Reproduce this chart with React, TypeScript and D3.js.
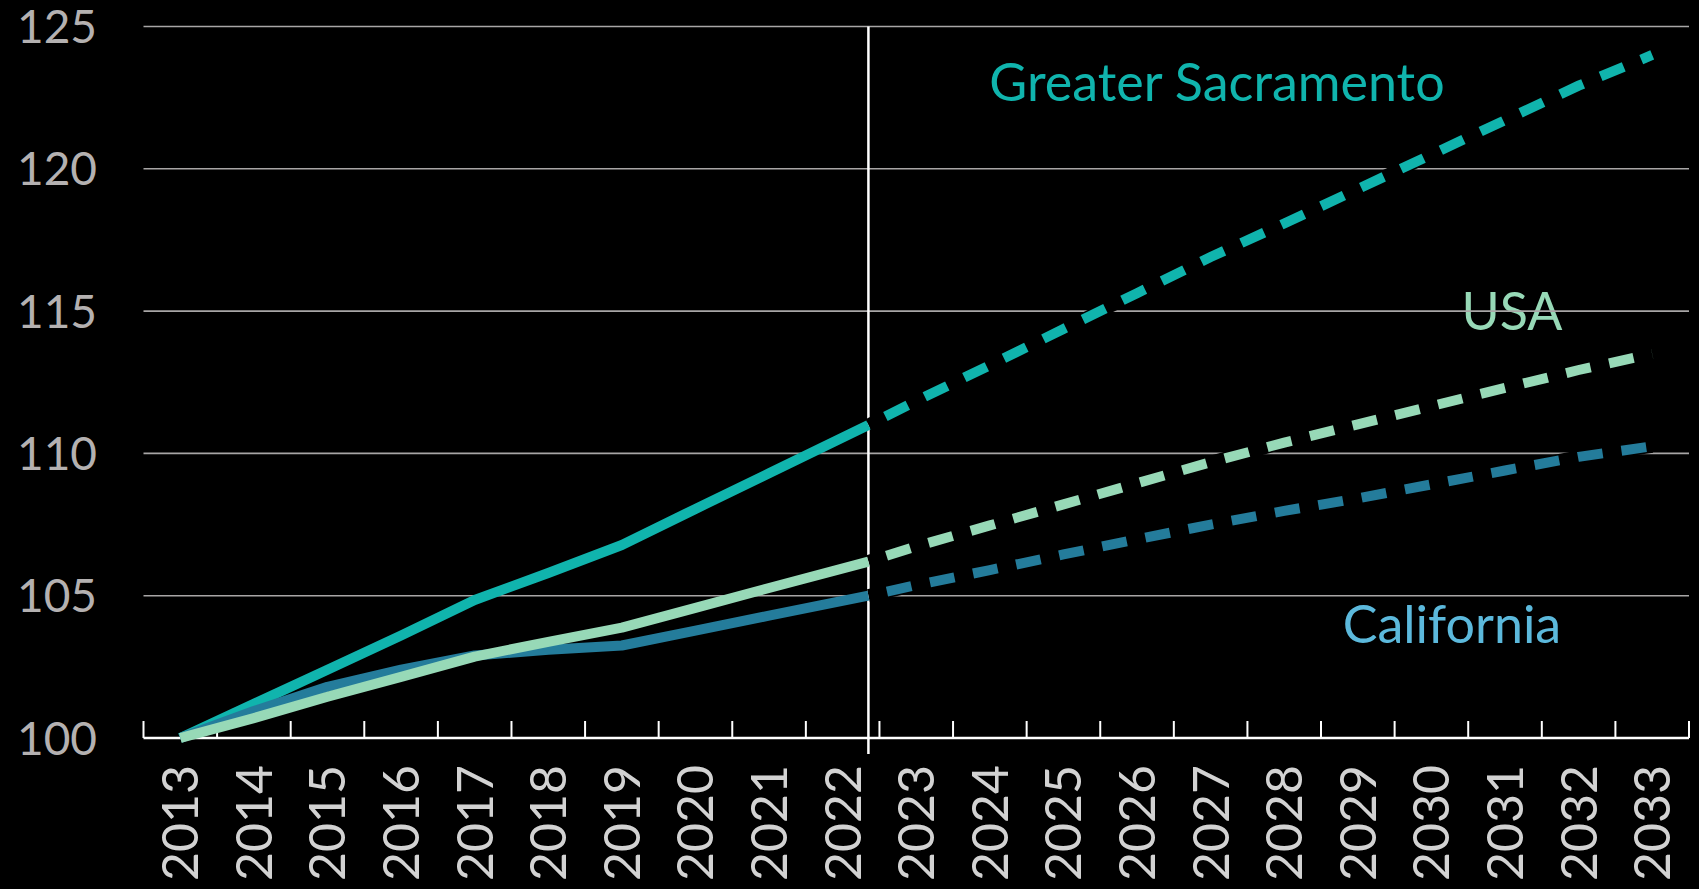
import React, { useRef, useEffect } from 'react';
import * as d3 from 'd3';

// index, 2013 = 100
const tickYears = [2013, 2014, 2015, 2016, 2017, 2018, 2019, 2020, 2021, 2022, 2023, 2024, 2025, 2026, 2027, 2028, 2029, 2030, 2031, 2032, 2033];
const yTicks = [100, 105, 110, 115, 120, 125];

// last actual reading sits a third of the way into 2022
const splitYear = 2022.35;

const histYears = [2013, 2014, 2015, 2016, 2017, 2018, 2019, 2020, 2021, splitYear];
const sacHist = [100, 101.2, 102.4, 103.6, 104.85, 105.8, 106.78, 108.05, 109.3, 111.0];
const usaHist = [100, 100.7, 101.45, 102.15, 102.86, 103.38, 103.88, 104.57, 105.27, 106.2];
const caHist = [100, 100.95, 101.8, 102.4, 102.9, 103.1, 103.25, 103.77, 104.3, 105.0];

const forecastYears = [splitYear, 2023, 2024, 2025, 2026, 2027, 2028, 2029, 2030, 2031, 2032, 2033];
const sacForecast = [111.0, 111.84, 113.1, 114.37, 115.63, 116.9, 118.08, 119.29, 120.5, 121.71, 122.92, 124.0];
const usaForecast = [106.2, 106.73, 107.47, 108.21, 108.95, 109.69, 110.38, 111.02, 111.66, 112.3, 112.93, 113.5];
const caForecast = [105.0, 105.37, 105.9, 106.45, 106.98, 107.5, 107.98, 108.42, 108.91, 109.4, 109.88, 110.25];

const seriesNames = ['Greater Sacramento', 'USA', 'California'];
const seriesColors = ['#10b4ad', '#97d9b7', '#247c9b'];
const labelColors = ['#10b4ad', '#97d9b7', '#5cb9dc'];

const WIDTH = 1699;
const HEIGHT = 889;
const FONT = 'Lato, "Open Sans", sans-serif';

const App: React.FC = () => {
  const svgRef = useRef<SVGSVGElement>(null);

  useEffect(() => {
    if (!svgRef.current) return;
    d3.select(svgRef.current).selectAll('*').remove();

    const svg = d3.select(svgRef.current).attr('width', WIDTH).attr('height', HEIGHT);

    svg.append('rect').attr('width', WIDTH).attr('height', HEIGHT).attr('fill', '#000');

    const left = 143.5;
    const right = 1689;
    const x = d3.scaleLinear().domain([2012.5, 2033.5]).range([left, right]);
    const y = d3.scaleLinear().domain([100, 125]).range([738, 26.5]);

    // labels next to the lines
    const labelPos = [
      { x: 1217, y: 101 },
      { x: 1512, y: 330 },
      { x: 1452, y: 643 },
    ];
    svg
      .append('g')
      .selectAll('text')
      .data(seriesNames)
      .enter()
      .append('text')
      .attr('x', (_, i) => labelPos[i].x)
      .attr('y', (_, i) => labelPos[i].y)
      .attr('text-anchor', 'middle')
      .style('font-family', FONT)
      .style('font-size', '52px')
      .attr('fill', (_, i) => labelColors[i])
      .text((d) => d);

    // grid lines
    svg
      .append('g')
      .selectAll('line')
      .data(yTicks.filter((t) => t > 100))
      .enter()
      .append('line')
      .attr('x1', left)
      .attr('x2', right)
      .attr('y1', (d) => y(d))
      .attr('y2', (d) => y(d))
      .attr('stroke', '#a8a6a6')
      .attr('stroke-width', 1.6);

    // y labels
    svg
      .append('g')
      .selectAll('text')
      .data(yTicks)
      .enter()
      .append('text')
      .attr('x', 97)
      .attr('y', (d) => y(d))
      .attr('dy', '0.36em')
      .attr('text-anchor', 'end')
      .style('font-family', FONT)
      .style('font-size', '46px')
      .attr('fill', '#b4b1b1')
      .text((d) => d);

    // x axis
    const axis = svg.append('g');
    axis
      .append('line')
      .attr('x1', left)
      .attr('x2', right)
      .attr('y1', y(100))
      .attr('y2', y(100))
      .attr('stroke', '#fff')
      .attr('stroke-width', 2.5);

    axis
      .selectAll('.tick')
      .data(d3.range(2012.5, 2034, 1))
      .enter()
      .append('line')
      .attr('class', 'tick')
      .attr('x1', (d) => x(d))
      .attr('x2', (d) => x(d))
      .attr('y1', y(100))
      .attr('y2', y(100) - 17)
      .attr('stroke', '#fff')
      .attr('stroke-width', 2);

    axis
      .selectAll('.xlabel')
      .data(tickYears)
      .enter()
      .append('text')
      .attr('class', 'xlabel')
      .attr('transform', (d) => `translate(${x(d)},765) rotate(-90)`)
      .attr('dy', '0.36em')
      .attr('text-anchor', 'end')
      .style('font-family', FONT)
      .style('font-size', '50px')
      .attr('fill', '#d2d2d2')
      .text((d) => d);

    // divider between actual and forecast
    svg
      .append('line')
      .attr('x1', x(splitYear))
      .attr('x2', x(splitYear))
      .attr('y1', y(125))
      .attr('y2', 754)
      .attr('stroke', '#fff')
      .attr('stroke-width', 2.5);

    const line = d3
      .line<[number, number]>()
      .x((d) => x(d[0]))
      .y((d) => y(d[1]));

    const hist = [sacHist, usaHist, caHist];
    const fc = [sacForecast, usaForecast, caForecast];

    // forecast: black underlay then dashes (hides the grid under the gaps)
    const fg = svg.append('g');
    fc.forEach((vals) => {
      const pts = forecastYears.map((yr, j) => [yr, vals[j]] as [number, number]);
      fg.append('path')
        .attr('d', line(pts))
        .attr('fill', 'none')
        .attr('stroke', '#000')
        .attr('stroke-width', 13);
    });
    fc.forEach((vals, i) => {
      const pts = forecastYears.map((yr, j) => [yr, vals[j]] as [number, number]);
      fg.append('path')
        .attr('d', line(pts))
        .attr('fill', 'none')
        .attr('stroke', seriesColors[i])
        .attr('stroke-width', 10)
        .attr('stroke-dasharray', '25 19')
        .attr('stroke-dashoffset', 25);
    });

    // actual lines, USA on top of California as in the original
    const hg = svg.append('g');
    [0, 2, 1].forEach((i) => {
      const pts = histYears.map((yr, j) => [yr, hist[i][j]] as [number, number]);
      hg.append('path')
        .attr('d', line(pts))
        .attr('fill', 'none')
        .attr('stroke', seriesColors[i])
        .attr('stroke-width', 10)
        .attr('stroke-linejoin', 'round');
    });
  }, []);

  return (
    <div style={{ position: 'absolute', left: 0, top: 0, width: WIDTH, height: HEIGHT, overflow: 'hidden', background: '#000' }}>
      <svg ref={svgRef} style={{ display: 'block' }}></svg>
    </div>
  );
};

export default App;
